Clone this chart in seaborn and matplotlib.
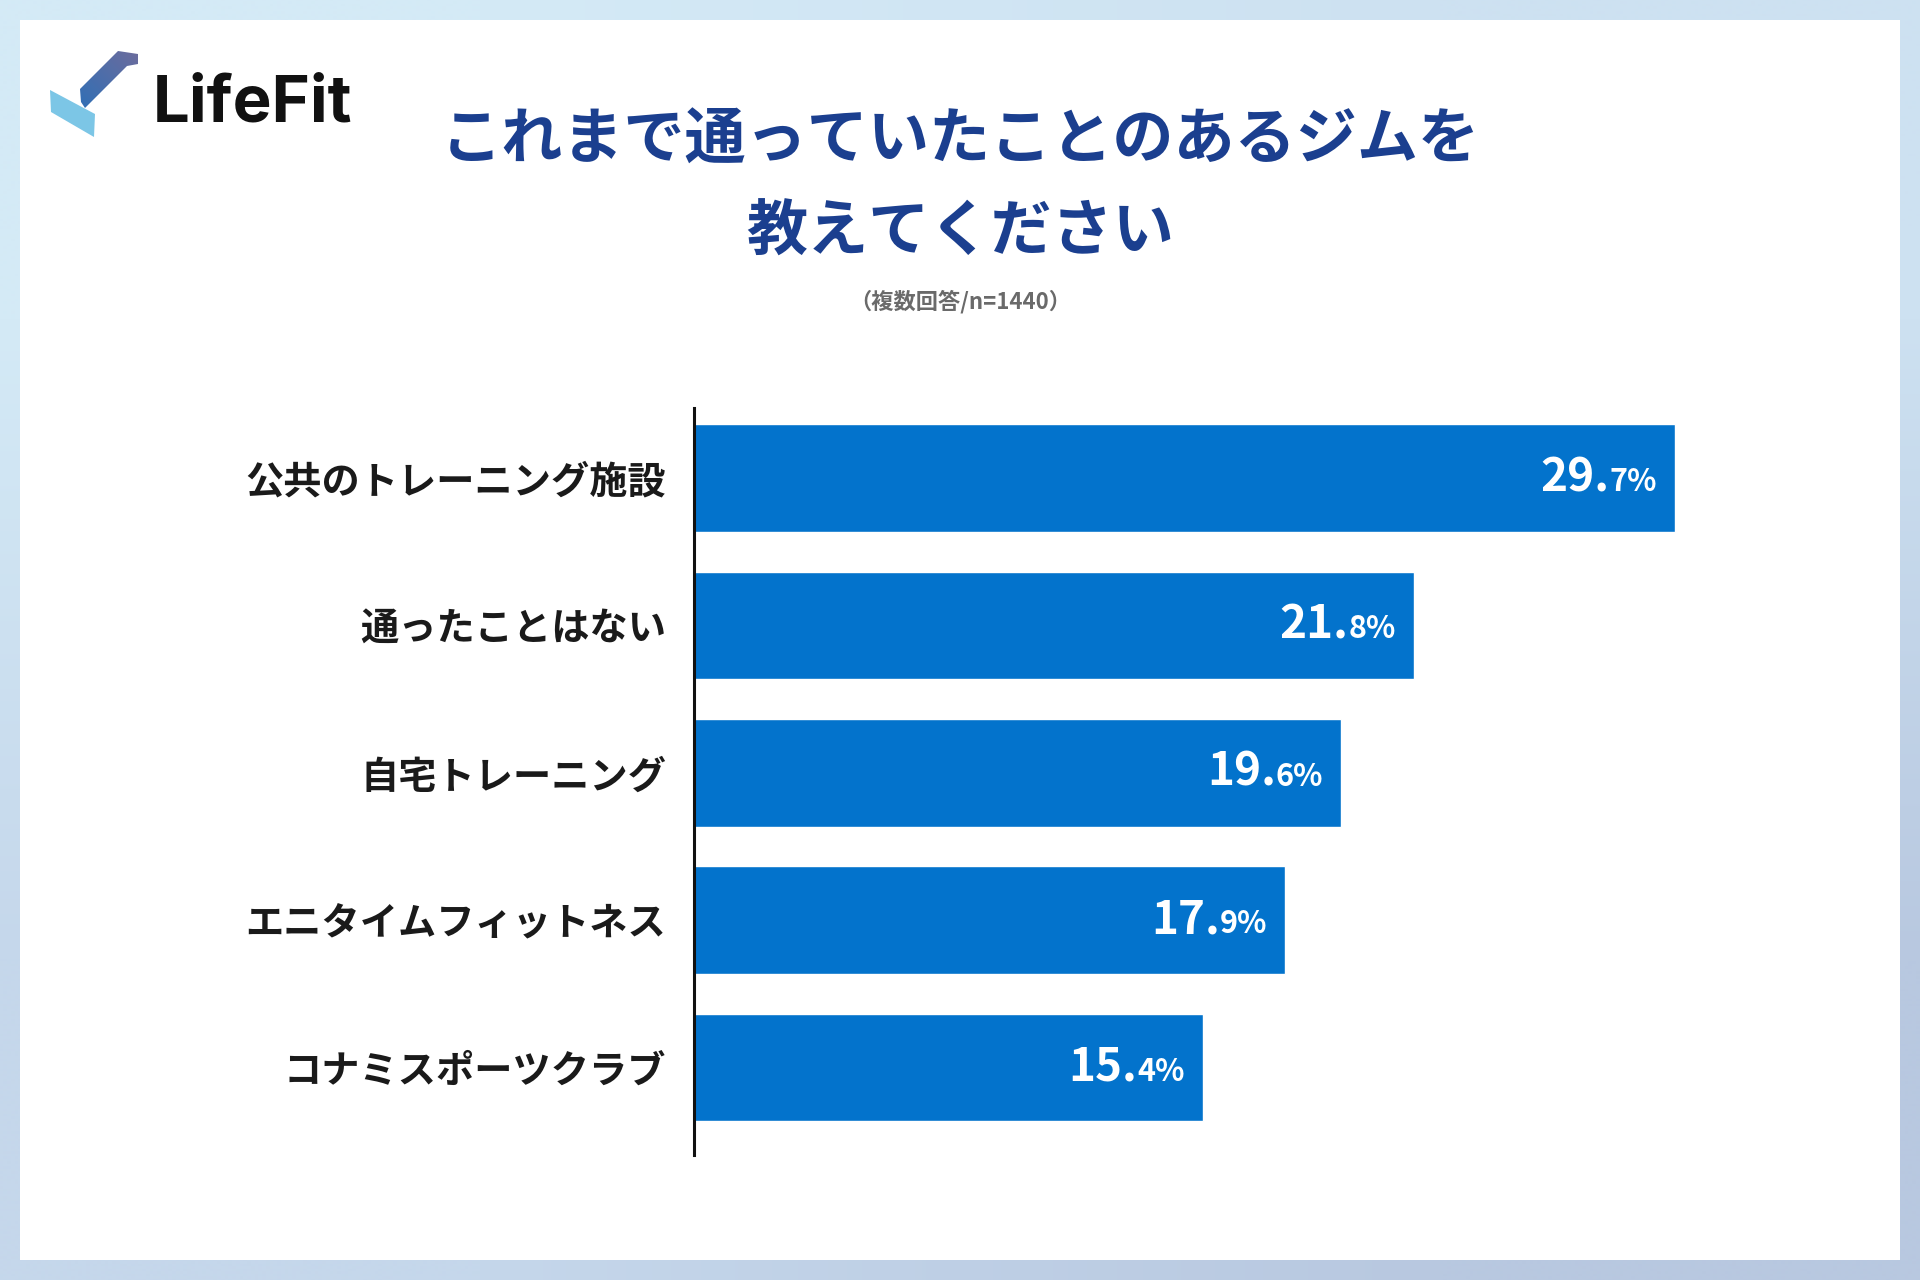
import numpy as np
import matplotlib
matplotlib.use("Agg")
import matplotlib.pyplot as plt
import seaborn as sns
from matplotlib.patches import Polygon, Rectangle
from matplotlib.colors import to_rgb
from matplotlib.offsetbox import TextArea, HPacker, AnnotationBbox

# data
categories = ["公共のトレーニング施設", "通ったことはない", "自宅トレーニング",
              "エニタイムフィットネス", "コナミスポーツクラブ"]
values = [29.7, 21.8, 19.6, 17.9, 15.4]
title_lines = ["これまで通っていたことのあるジムを", "教えてください"]
subtitle = "（複数回答/n=1440）"
brand = "LifeFit"

BAR_COLOR = "#0373cc"
TITLE_COLOR = "#1b3f8f"

sns.set_theme(style="white")
plt.rcParams["font.family"] = ["Noto Sans CJK JP", "DejaVu Sans"]

W, H = 1920, 1280
fig = plt.figure(figsize=(W / 100, H / 100), dpi=100)

# background: soft gradient with a white card on top
bg = fig.add_axes([0, 0, 1, 1], zorder=-10)
corners = np.array([[to_rgb("#d4eaf6"), to_rgb("#cde1f1")],
                    [to_rgb("#c5d7eb"), to_rgb("#b8c8e0")]])
bg.imshow(corners, extent=(0, W, H, 0), interpolation="bilinear", aspect="auto")
bg.add_patch(Rectangle((20, 20), 1880, 1240, facecolor="white", edgecolor="none"))

# logo mark (pixel coords, y down)
light = Polygon([(50, 90), (95, 114), (94, 137), (51, 112)], closed=True,
                facecolor="#7cc6e6", edgecolor="none", zorder=3)
bg.add_patch(light)
dark_pts = [(80, 89), (118, 51), (138, 54), (138, 64), (127, 66), (85, 108), (81, 102)]
dark = Polygon(dark_pts, closed=True, facecolor="none", edgecolor="none", zorder=3)
bg.add_patch(dark)
gx, gy = np.meshgrid(np.linspace(0, 1, 60), np.linspace(0, 1, 60))
t = np.clip((gx + (1 - gy)) / 2, 0, 1)
c0, c1 = np.array(to_rgb("#2f6fb6")), np.array(to_rgb("#6e6c9c"))
grad = c0[None, None, :] * (1 - t[..., None]) + c1[None, None, :] * t[..., None]
im = bg.imshow(grad, extent=(78, 140, 110, 49), interpolation="bilinear",
               aspect="auto", zorder=4)
im.set_clip_path(dark)
bg.set_xlim(0, W)
bg.set_ylim(H, 0)
bg.axis("off")

fig.text(153 / W, 1 - 121 / H, brand, ha="left", va="baseline", fontsize=47,
         fontweight="bold", color="#111111", family=["Inter", "DejaVu Sans"])

# titles
fig.text(0.5, 1 - 141 / H, title_lines[0], ha="center", va="center",
         fontsize=44, fontweight="bold", color=TITLE_COLOR)
fig.text(0.5, 1 - 233 / H, title_lines[1], ha="center", va="center",
         fontsize=44, fontweight="bold", color=TITLE_COLOR)
fig.text(0.5, 1 - 302 / H, subtitle, ha="center", va="center",
         fontsize=16, fontweight="bold", color="#6a6a6a")

# bar chart
px_per_pct = 33.03
ax = fig.add_axes([694 / W, 1 - 1155 / H, 35 * px_per_pct / W, 747 / H])
ax.patch.set_alpha(0)
sns.barplot(x=values, y=categories, orient="h", color=BAR_COLOR, saturation=1,
            width=0.73, ax=ax)
ax.set_xlim(0, 35)
ax.set_ylim(4.593, -0.475)
for side in ["top", "right", "bottom"]:
    ax.spines[side].set_visible(False)
ax.spines["left"].set_color("#111111")
ax.spines["left"].set_linewidth(2.2)
ax.set_xticks([])
ax.set_xlabel("")
ax.set_ylabel("")
ax.tick_params(axis="y", length=0, pad=20, labelsize=27.5, labelcolor="#1a1a1a")
for lbl in ax.get_yticklabels():
    lbl.set_fontweight("bold")

for i, v in enumerate(values):
    whole, dec = f"{v:.1f}".split(".")
    big = TextArea(whole + ".", textprops=dict(color="white", fontsize=33, fontweight="bold"))
    small = TextArea(dec + "%", textprops=dict(color="white", fontsize=22, fontweight="bold"))
    pack = HPacker(children=[big, small], align="baseline", pad=0, sep=0)
    ab = AnnotationBbox(pack, (v, i), xybox=(-13, 0), xycoords="data",
                        boxcoords="offset points", box_alignment=(1, 0.5), frameon=False)
    ax.add_artist(ab)

fig.savefig("out.png", dpi=100)
